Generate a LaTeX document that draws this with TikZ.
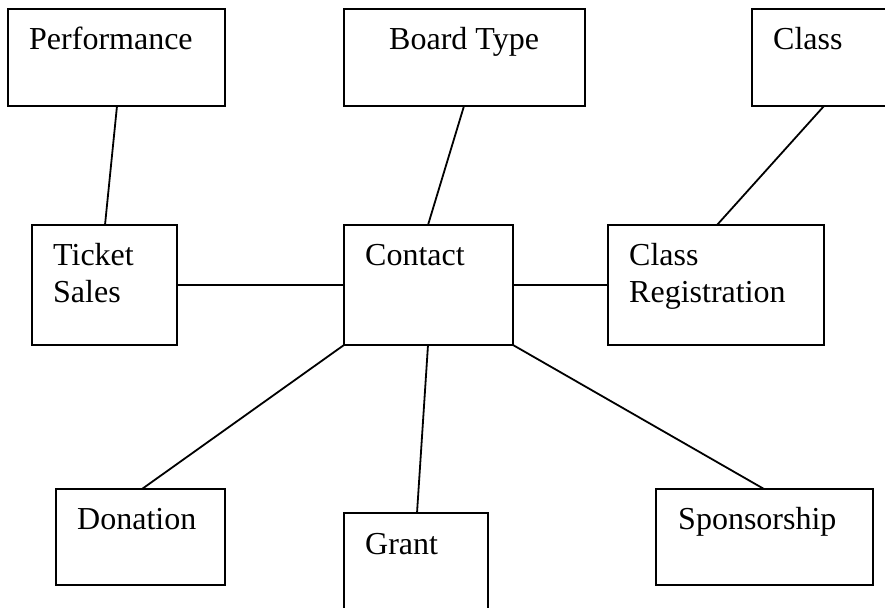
\documentclass[tikz,border=0pt]{standalone}
\usepackage{fontspec}
\setmainfont{Liberation Serif}

\tikzset{
  box/.style={draw, line width=1.8pt, anchor=north west, inner sep=0pt, outer sep=0pt},
  txt/.style={anchor=base west, inner sep=0pt, align=left, font=\fontsize{32}{37}\selectfont},
  every edge/.style={draw, line width=1.8pt}
}

\begin{document}
\begin{tikzpicture}[x=1pt, y=-1pt]
    \clip (0,0) rectangle (885,607);
    \useasboundingbox (0,0) rectangle (885,607);

    \node[box, minimum width=217, minimum height=97] (perf) at (8,9) {};
    \node[box, minimum width=241, minimum height=97] (board) at (344,9) {};
    \node[box, minimum width=145, minimum height=97] (class) at (752,9) {};
    \node[box, minimum width=145, minimum height=120] (tick) at (32,225) {};
    \node[box, minimum width=169, minimum height=120] (contact) at (344,225) {};
    \node[box, minimum width=216, minimum height=120] (classreg) at (608,225) {};
    \node[box, minimum width=169, minimum height=96] (don) at (56,489) {};
    \node[box, minimum width=144, minimum height=120] (grant) at (344,513) {};
    \node[box, minimum width=217, minimum height=96] (spons) at (656,489) {};

    % two-line labels sit on the baseline of their last line
    \node[txt] (perftxt) at ([shift={(21,41)}]perf.north west) {Performance};
    \node[txt] (boardtxt) at ([shift={(45,41)}]board.north west) {Board Type};
    \node[txt] (classtxt) at ([shift={(21,41)}]class.north west) {Class};
    \node[txt] (ticktxt) at ([shift={(21,77)}]tick.north west) {Ticket\\Sales};
    \node[txt] (contacttxt) at ([shift={(21,40)}]contact.north west) {Contact};
    \node[txt] (classregtxt) at ([shift={(21,77)}]classreg.north west) {Class\\Registration};
    \node[txt] (dontxt) at ([shift={(21,40)}]don.north west) {Donation};
    \node[txt] (granttxt) at ([shift={(21,41)}]grant.north west) {Grant};
    \node[txt] (sponstxt) at ([shift={(22,40)}]spons.north west) {Sponsorship};

    \path
    ([xshift=109]perf.south west) edge ([xshift=73]tick.north west)
    ([xshift=120]board.south west) edge ([xshift=84]contact.north west)
    ([xshift=72]class.south west) edge ([xshift=109]classreg.north west)
    (tick.east) edge (contact.west)
    (contact.east) edge (classreg.west)
    (contact.south west) edge ([xshift=86]don.north west)
    ([xshift=84]contact.south west) edge ([xshift=73]grant.north west)
    (contact.south east) edge ([xshift=108]spons.north west);
\end{tikzpicture}
\end{document}
